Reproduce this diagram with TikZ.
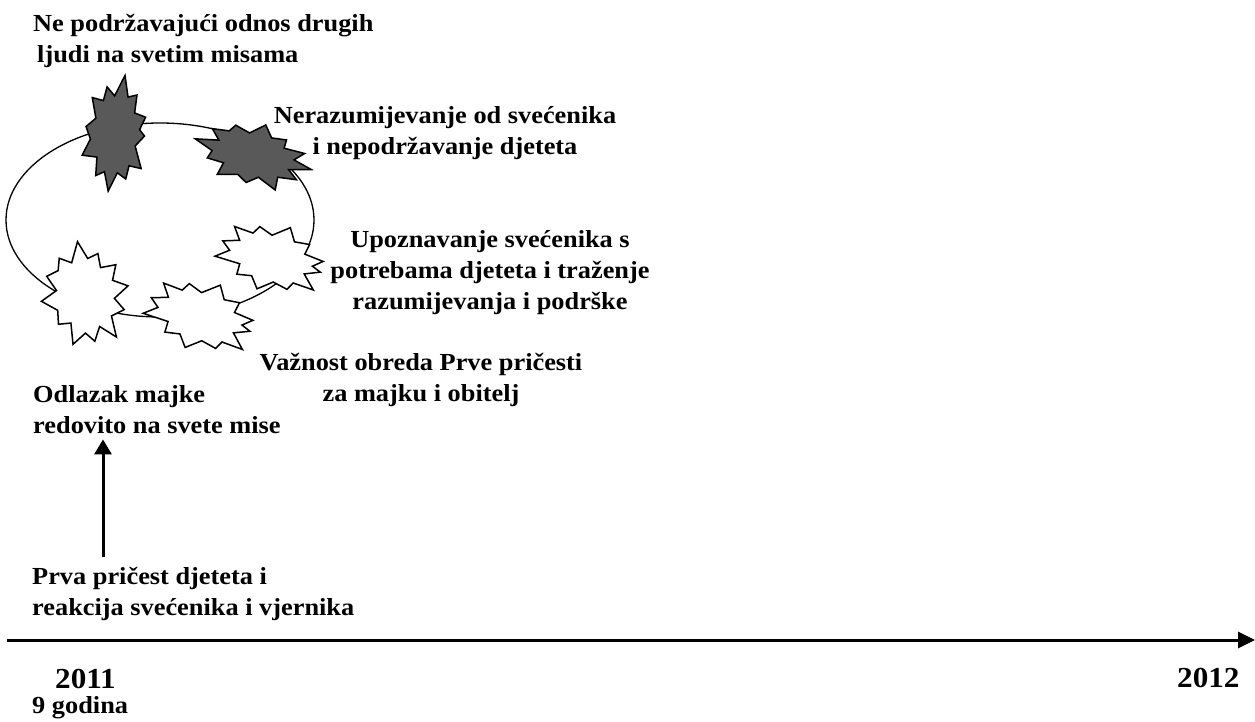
\documentclass[tikz,border=0pt]{standalone}
\usepackage{fontspec}
\setmainfont{Liberation Serif}[FakeStretch=1.075]
\usetikzlibrary{arrows.meta}
\definecolor{burstgray}{RGB}{89,89,89}
% burst outlines: angle/radius pairs after the first point
\newcommand\burstA{15/.66, 27/.9, 44/.68, 60/1, 74/.64, 90/.86, 104/.7, 121/.97, 135/.63, 150/.84, 166/.7, 183/1, 197/.64, 212/.9, 228/.72, 242/.85, 257/.64, 275/.98, 290/.68, 305/.84, 318/.64, 333/.93, 347/.7}
\newcommand\burstB{16/.64, 33/1, 47/.7, 61/.84, 77/.66, 95/.96, 110/.68, 124/.86, 140/.63, 157/1, 171/.72, 186/.87, 202/.64, 218/.94, 233/.68, 247/.84, 262/.64, 280/1, 296/.7, 310/.88, 325/.65, 340/.92, 352/.72}
\newcommand\topstrut{\rule{0pt}{25pt}}
\tikzset{
  lbl/.style={inner sep=0pt, font=\fontsize{24.5}{31}\selectfont\bfseries},
  yr/.style={inner sep=0pt, font=\fontsize{29}{34}\selectfont\bfseries},
  darkburst/.style={draw=black, line width=1.5pt, fill=burstgray},
  lightburst/.style={draw=black, line width=1.5pt, fill=white},
  loopline/.style={draw=black, line width=1.3pt},
  axisline/.style={line width=3pt, -{Triangle[length=17pt,width=16pt]}},
  uparrow/.style={line width=3pt, -{Triangle[length=15pt,width=17pt]}},
}
\begin{document}
\begin{tikzpicture}[x=1pt,y=-1pt]
\useasboundingbox (0,0) rectangle (1255,722);

% cycle
\draw[loopline] (160,220) ellipse [x radius=154, y radius=97];

% starbursts
\draw[darkburst, shift={(115,134)}, rotate=-4, xscale=34, yscale=60] (0:0.87) \foreach \a/\r in \burstB {-- (\a:\r)} -- cycle;
\draw[darkburst, shift={(253,155)}, rotate=-14, xscale=60, yscale=33] (0:1) \foreach \a/\r in \burstA {-- (\a:\r)} -- cycle;
\draw[lightburst, shift={(271,258)}, rotate=-16, xscale=59, yscale=35] (0:0.87) \foreach \a/\r in \burstB {-- (\a:\r)} -- cycle;
\draw[lightburst, shift={(85,295)}, rotate=12, xscale=44, yscale=55] (0:1) \foreach \a/\r in \burstA {-- (\a:\r)} -- cycle;
\draw[lightburst, shift={(200,316)}, rotate=-17, xscale=60, yscale=36] (0:0.87) \foreach \a/\r in \burstB {-- (\a:\r)} -- cycle;

% labels
\node[lbl, anchor=north west, align=left] (title) at (33,6)
  {\topstrut Ne podržavajući odnos drugih\\\hspace*{4pt}ljudi na svetim misama};
\node[lbl, anchor=north, align=center] (nera) at (445,98)
  {\topstrut Nerazumijevanje od svećenika\\i nepodržavanje djeteta};
\node[lbl, anchor=north, align=center] (upoz) at (490,222)
  {\topstrut Upoznavanje svećenika s\\potrebama djeteta i traženje\\razumijevanja i podrške};
\node[lbl, anchor=north, align=center] (vaz) at (421,345)
  {\topstrut Važnost obreda Prve pričesti\\za majku i obitelj};
\node[lbl, anchor=north west, align=left] (odl) at (33,377)
  {\topstrut Odlazak majke\\redovito na svete mise\rule[-6pt]{0pt}{6pt}};
\node[lbl, anchor=north west, align=left] (prva) at (32,559)
  {\topstrut Prva pričest djeteta i\\reakcija svećenika i vjernika};

\node[yr, anchor=base west] (y2011) at (55,688) {2011};
\node[lbl, anchor=base west] (age) at (32,713) {9 godina};
\node[yr, anchor=base west] (y2012) at (1177,687) {2012};

% arrows
\coordinate (xa) at (103,0);
\draw[uparrow, shorten <=2pt] (prva.north -| xa) -- (odl.south -| xa);
\coordinate (axs) at (7,640);
\coordinate (axe) at (1255,640);
\draw[axisline] (axs) -- (axe);
\end{tikzpicture}
\end{document}
